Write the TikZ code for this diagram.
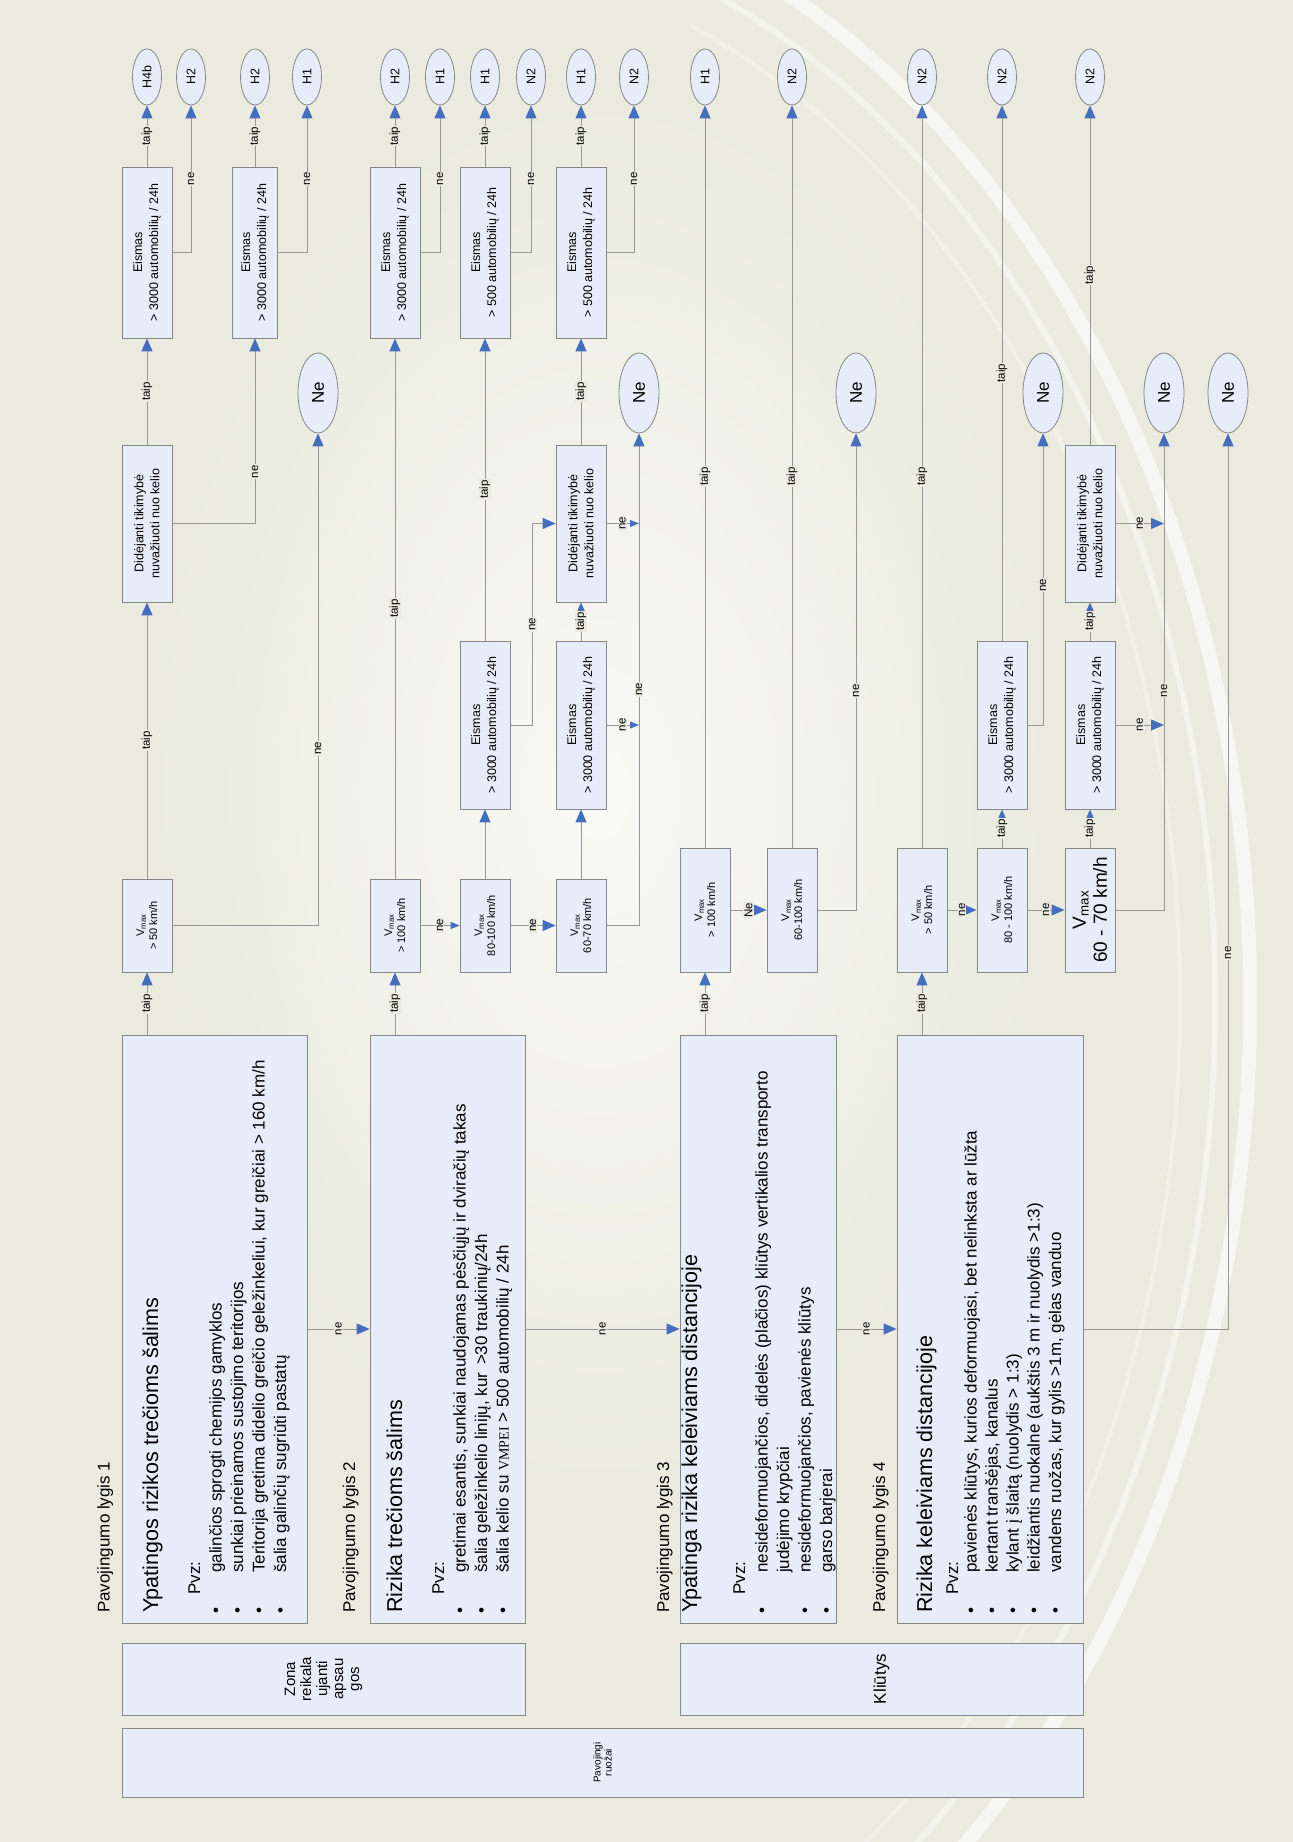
\documentclass[tikz,border=0pt]{standalone}
\usepackage{fontspec}
\setmainfont{Liberation Sans}
\newfontfamily\vmpeifont{Liberation Serif}
\usetikzlibrary{arrows.meta, positioning, shapes.geometric}
\definecolor{bgc}{RGB}{234,235,222}
\definecolor{boxc}{RGB}{230,236,248}
\definecolor{edgec}{RGB}{135,135,135}
\definecolor{linec}{RGB}{150,150,150}
\definecolor{tipc}{RGB}{70,110,190}
\newcommand{\fsz}[2]{\fontsize{#1}{#2}\selectfont}
\newcommand{\vmax}{V\textsubscript{max}}
\newcommand{\blt}{\makebox[41pt][l]{\textbullet}}

\begin{document}
\begin{tikzpicture}[
  x=1pt, y=1pt, rotate=90, transform shape,
  cell/.style={rectangle, draw=edgec, fill=boxc, line width=0.8pt, inner sep=1pt, align=center},
  lvlbox/.style={cell, minimum width=588},
  vbox/.style={cell, minimum width=93, minimum height=50, font=\fsz{11}{13}},
  vboxw/.style={vbox, minimum width=124},
  dbox/.style={cell, minimum width=157, minimum height=50, font=\fsz{12.5}{16}},
  ebox/.style={cell, minimum width=171, minimum height=50, font=\fsz{12.5}{16}},
  ebox2/.style={ebox, minimum width=168},
  res/.style={ellipse, draw=edgec, fill=boxc, line width=0.8pt, inner sep=0pt,
    minimum width=56, minimum height=29, font=\fsz{12.5}{14}},
  stop/.style={res, minimum width=80, minimum height=40, font=\fsz{17}{18}},
  arr/.style={draw=linec, line width=0.9pt, -{Triangle[length=13pt, width=11pt, color=tipc]}},
  arrs/.style={arr, -{Triangle[length=9pt, width=7pt, color=tipc]}},
  lbl/.style={fill=bgc, inner sep=1pt, font=\fsz{11.5}{12}},
  lvl/.style={anchor=base west, inner sep=0pt, font=\fsz{17}{20}},
  ttl/.style={anchor=base west, inner sep=0pt, font=\fsz{21.5}{24}},
  itm/.style={anchor=base west, inner sep=0pt, font=\fsz{17}{20}},
  swoosh/.style={white, line cap=round}
]
\useasboundingbox (0,-1293) rectangle (1842,0);
\fill[bgc] (0,-1293) rectangle (1842,0);
\begin{scope}
\clip (0,-1293) rectangle (1842,0);
\shade[inner color=white!70!bgc, outer color=bgc] (1050,-600) ellipse [x radius=700, y radius=450];
\draw[swoosh, opacity=.6, line width=14] (842,-400) ++(-22:1130 and 850) arc [start angle=-22, end angle=-150, x radius=1130, y radius=850];
\draw[swoosh, opacity=.45, line width=6] (842,-400) ++(-22:1090 and 815) arc [start angle=-22, end angle=-150, x radius=1090, y radius=815];
\draw[swoosh, opacity=.35, line width=4] (842,-400) ++(-22:1050 and 780) arc [start angle=-22, end angle=-150, x radius=1050, y radius=780];
\end{scope}

\node[cell, minimum width=69, minimum height=961, font=\fsz{10}{11}] (ruozai) at (79.5,-602.5) {Pavojingi\\ruožai};
\node[cell, minimum width=72, minimum height=403, font=\fsz{15}{16}] (zona) at (163,-323.5) {Zona\\reikala\\ujanti\\apsau\\gos};
\node[cell, minimum width=72, minimum height=403, font=\fsz{17}{20}] (kliutys) at (163,-881.5) {Kliūtys};

\node[lvlbox, minimum height=185] (box1) at (513,-214.5) {};
\node[lvlbox, minimum height=155] (box2) at (513,-447.5) {};
\node[lvlbox, minimum height=156] (box3) at (513,-758) {};
\node[lvlbox, minimum height=186] (box4) at (513,-990) {};

\node[lvl] (lyg1) at (229,-109.5) {Pavojingumo lygis 1};
\node[lvl] (lyg2) at (229,-355) {Pavojingumo lygis 2};
\node[lvl] (lyg3) at (229,-669) {Pavojingumo lygis 3};
\node[lvl] (lyg4) at (229,-885) {Pavojingumo lygis 4};

\node[ttl] (t1) at (229,-158) {Ypatingos rizikos trečioms šalims};
\node[itm] (p1) at (247,-200) {Pvz:};
\node[itm] (i11) at (228,-221.5) {\blt galinčios sprogti chemijos gamyklos};
\node[itm] (i12) at (228,-243) {\blt sunkiai prieinamos sustojimo teritorijos};
\node[itm] (i13) at (228,-264.5) {\blt Teritorija gretima didelio greičio geležinkeliui, kur greičiai > 160 km/h};
\node[itm] (i14) at (228,-286) {\blt šalia galinčių sugriūti pastatų};

\node[ttl] (t2) at (229,-402) {Rizika trečioms šalims};
\node[itm] (p2) at (247,-444) {Pvz:};
\node[itm] (i21) at (228,-465.5) {\blt gretimai esantis, sunkiai naudojamas pėsčiųjų ir dviračių takas};
\node[itm] (i22) at (228,-487) {\blt šalia geležinkelio linijų, kur \,>30 traukinių/24h};
\node[itm] (i23) at (228,-508.5) {\blt šalia kelio su {\vmpeifont\fsz{14}{20}VMPEI} > 500 automobilių / 24h};

\node[ttl] (t3) at (229,-697) {Ypatinga rizika keleiviams distancijoje};
\node[itm] (p3) at (247,-745) {Pvz:};
\node[itm] (i31) at (228,-767.5) {\blt nesideformuojančios, didelės (plačios) kliūtys vertikalios transporto};
\node[itm] (i31b) at (269,-789) {judėjimo krypčiai};
\node[itm] (i32) at (228,-810.5) {\blt nesideformuojančios, pavienės kliūtys};
\node[itm] (i33) at (228,-832) {\blt garso barjerai};

\node[ttl] (t4) at (229,-932) {Rizika keleiviams distancijoje};
\node[itm] (p4) at (247,-958) {Pvz:};
\node[itm] (i41) at (228,-976.5) {\blt pavienės kliūtys, kurios deformuojasi, bet nelinksta ar lūžta};
\node[itm] (i42) at (228,-997.5) {\blt kertant tranšėjas, kanalus};
\node[itm] (i43) at (228,-1018.5) {\blt kylant į šlaitą (nuolydis > 1:3)};
\node[itm] (i44) at (228,-1039.5) {\blt leidžiantis nuokalne (aukštis 3 m ir nuolydis >1:3)};
\node[itm] (i45) at (228,-1061) {\blt vandens ruožas, kur gylis >1m, gėlas vanduo};

\node[vbox] (v1) at (916.5,-147) {\vmax\\> 50 km/h};
\node[vbox] (v2) at (916.5,-395) {\vmax\\> 100 km/h};
\node[vbox] (v3) at (916.5,-485) {\vmax\\80-100 km/h};
\node[vbox] (v4) at (916.5,-581) {\vmax\\60-70 km/h};
\node[vboxw] (v5) at (932,-705) {\vmax\\> 100 km/h};
\node[vboxw] (v6) at (932,-792) {\vmax\\60-100 km/h};
\node[vboxw] (v7) at (932,-922) {\vmax\\> 50 km/h};
\node[vboxw] (v8) at (932,-1002) {\vmax\\80 - 100 km/h};
\node[vboxw, font=\fsz{19}{21}] (v9) at (932,-1090) {\vmax\\60 - 70 km/h};

\node[dbox] (d1) at (1318.5,-147) {Didėjanti tikimybė\\nuvažiuoti nuo kelio};
\node[dbox] (d2) at (1318.5,-581) {Didėjanti tikimybė\\nuvažiuoti nuo kelio};
\node[dbox] (d3) at (1318.5,-1090) {Didėjanti tikimybė\\nuvažiuoti nuo kelio};

\node[ebox] (e1) at (1589.5,-147) {Eismas\\> 3000 automobilių / 24h};
\node[ebox, minimum height=44.6] (e2) at (1589.5,-255) {Eismas\\> 3000 automobilių / 24h};
\node[ebox] (e3) at (1589.5,-395) {Eismas\\> 3000 automobilių / 24h};
\node[ebox] (e5) at (1589.5,-485) {Eismas\\> 500 automobilių / 24h};
\node[ebox] (e7) at (1589.5,-581) {Eismas\\> 500 automobilių / 24h};
\node[ebox2] (e4) at (1117,-485) {Eismas\\> 3000 automobilių / 24h};
\node[ebox2] (e6) at (1117,-581) {Eismas\\> 3000 automobilių / 24h};
\node[ebox2] (e8) at (1117,-1002) {Eismas\\> 3000 automobilių / 24h};
\node[ebox2] (e9) at (1117,-1090) {Eismas\\> 3000 automobilių / 24h};

\node[res] (h4b) at (1765,-147) {H4b};
\node[res] (h2a) at (1765,-191) {H2};
\node[res] (h2b) at (1765,-255) {H2};
\node[res] (h1a) at (1765,-307) {H1};
\node[res] (h2c) at (1765,-395) {H2};
\node[res] (h1b) at (1765,-440) {H1};
\node[res] (h1c) at (1765,-485) {H1};
\node[res] (n2a) at (1765,-531) {N2};
\node[res] (h1d) at (1765,-581) {H1};
\node[res] (n2b) at (1765,-634) {N2};
\node[res] (h1e) at (1765,-705) {H1};
\node[res] (n2c) at (1765,-792) {N2};
\node[res] (n2d) at (1765,-922) {N2};
\node[res] (n2e) at (1765,-1002) {N2};
\node[res] (n2f) at (1765,-1090) {N2};

\node[stop] (ne1) at (1449,-318) {Ne};
\node[stop] (ne2) at (1449,-639) {Ne};
\node[stop] (ne3) at (1449,-856) {Ne};
\node[stop] (ne4) at (1449,-1043) {Ne};
\node[stop] (ne5) at (1449,-1164) {Ne};
\node[stop] (ne6) at (1449,-1228) {Ne};

\draw[arr] (box1.east |- v1) -- node[lbl]{taip} (v1);
\draw[arr] (v1) -- node[lbl]{taip} (d1);
\draw[arr] (d1) -- node[lbl]{taip} (e1);
\draw[arr] (e1) -- node[lbl]{taip} (h4b);
\draw[arr] (e1.south) |- node[lbl, pos=0.75]{ne} (h2a);
\draw[arr] (v1.south) |- node[lbl, pos=0.68]{ne} (ne1);
\draw[arr] (d1.south) |- node[lbl, pos=0.64]{ne} (e2);
\draw[arr] (e2) -- node[lbl]{taip} (h2b);
\draw[arr] (e2.south) |- node[lbl, pos=0.75]{ne} (h1a);
\draw[arr] (box1) -- node[lbl]{ne} (box2);

\draw[arr] (box2.east |- v2) -- node[lbl]{taip} (v2);
\draw[arr] (v2) -- node[lbl]{taip} (e3);
\draw[arr] (e3) -- node[lbl]{taip} (h2c);
\draw[arr] (e3.south) |- node[lbl, pos=0.75]{ne} (h1b);
\draw[arrs] (v2) -- node[lbl]{ne} (v3);
\draw[arr] (v3) -- (e4);
\draw[arr] (e4) -- node[lbl]{taip} (e5);
\draw[arr] (e5) -- node[lbl]{taip} (h1c);
\draw[arr] (e5.south) |- node[lbl, pos=0.75]{ne} (n2a);
\draw[arr] (e4.south) -- ++(0,-22) -| node[lbl, pos=0.25]{ne} (d2);
\draw[arr] (v3) -- node[lbl]{ne} (v4);
\draw[arr] (v4) -- (e6);
\draw[arr] (e6) -- node[lbl]{taip} (d2);
\draw[arr] (d2) -- node[lbl]{taip} (e7);
\draw[arr] (e7) -- node[lbl]{taip} (h1d);
\draw[arr] (e7.south) |- node[lbl, pos=0.75]{ne} (n2b);
\draw[arr] (v4.south) |- node[lbl, pos=0.74]{ne} (ne2);
\coordinate (j1) at (d2.south |- ne2);
\coordinate (j2) at (e6.south |- ne2);
\draw[arrs] (d2) -- node[lbl]{ne} (j1);
\draw[arrs] (e6) -- node[lbl]{ne} (j2);
\draw[arr] (box2) -- node[lbl]{ne} (box3);

\draw[arr] (box3.east |- v5) -- node[lbl]{taip} (v5);
\draw[arr] (v5) -- node[lbl]{taip} (h1e);
\draw[arr] (v5) -- node[lbl]{Ne} (v6);
\draw[arr] (v6) -- node[lbl]{taip} (n2c);
\draw[arr] (v6.south) |- node[lbl, pos=0.73]{ne} (ne3);
\draw[arr] (box3) -- node[lbl]{ne} (box4);

\draw[arr] (box4.east |- v7) -- node[lbl]{taip} (v7);
\draw[arr] (v7) -- node[lbl]{taip} (n2d);
\draw[arr] (v7) -- node[lbl]{ne} (v8);
\draw[arr] (v8) -- node[lbl]{taip} (e8);
\draw[arr] (e8) -- node[lbl]{taip} (n2e);
\draw[arr] (e8.south) |- node[lbl, pos=0.74]{ne} (ne4);
\draw[arr] (v8) -- node[lbl]{ne} (v9);
\draw[arr] (v9) -- node[lbl]{taip} (e9);
\draw[arr] (e9) -- node[lbl]{taip} (d3);
\draw[arr] (d3) -- node[lbl]{taip} (n2f);
\draw[arr] (v9.south) |- node[lbl, pos=0.73]{ne} (ne5);
\coordinate (j3) at (d3.south |- ne5);
\coordinate (j4) at (e9.south |- ne5);
\draw[arr] (d3) -- node[lbl]{ne} (j3);
\draw[arr] (e9) -- node[lbl]{ne} (j4);
\draw[arr] (box4.south) |- node[lbl, pos=0.71]{ne} (ne6);
\end{tikzpicture}
\end{document}
